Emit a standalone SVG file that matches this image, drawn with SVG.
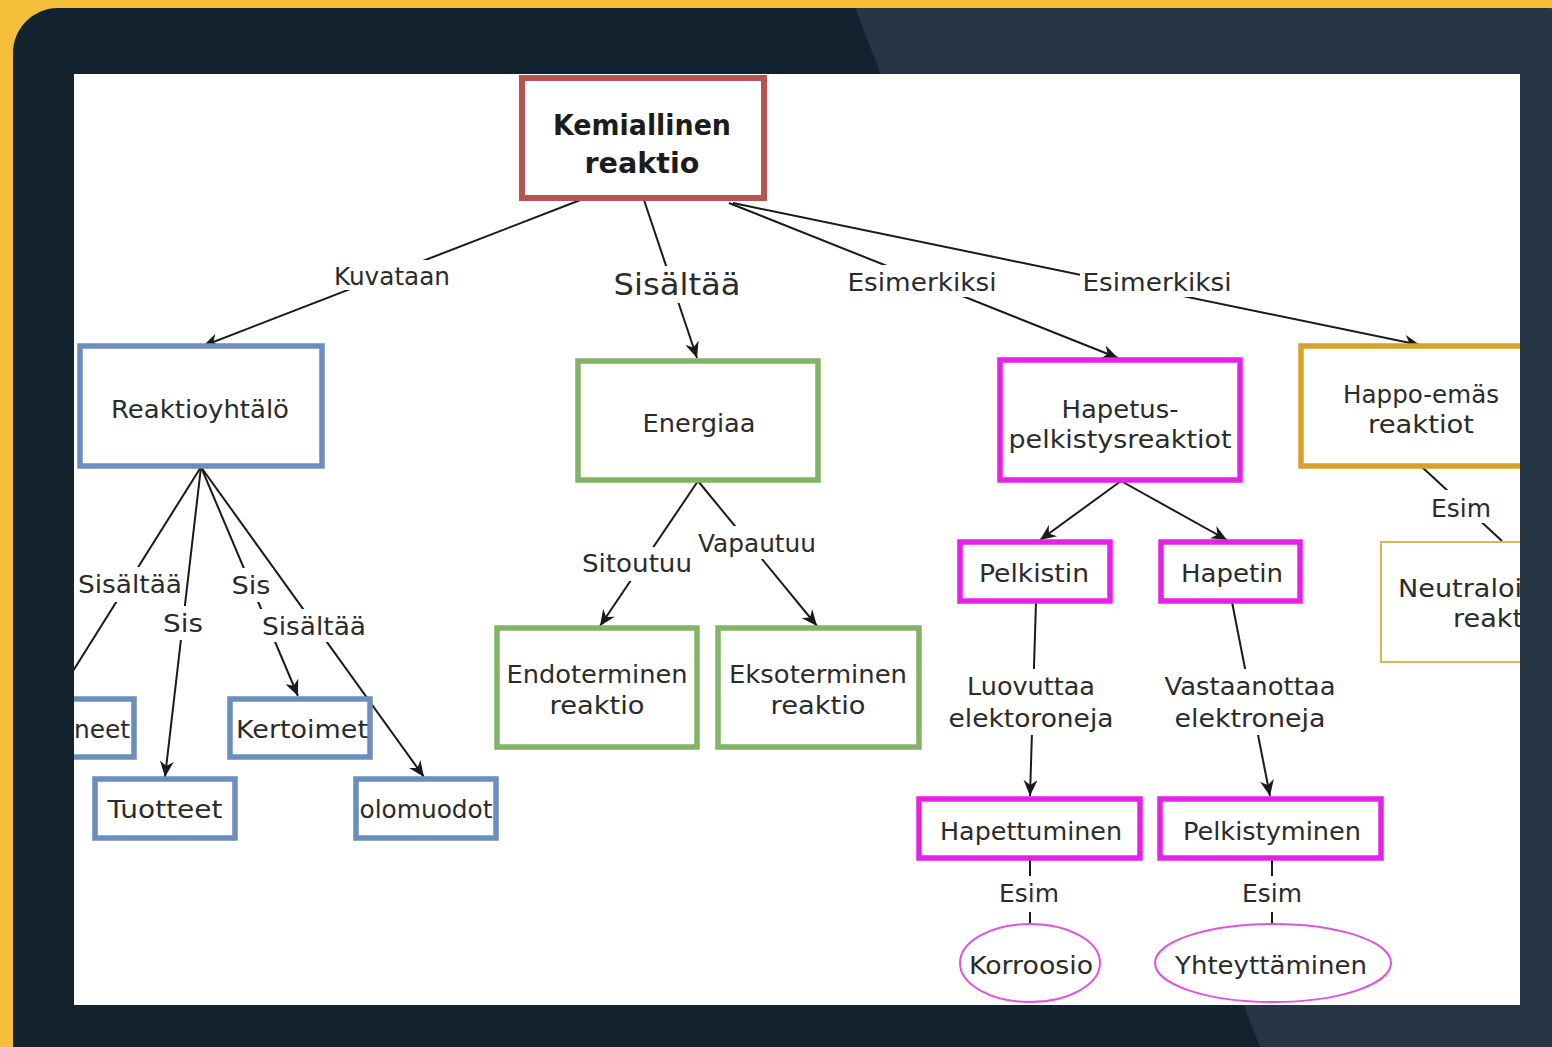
<svg xmlns="http://www.w3.org/2000/svg" width="1552" height="1047" viewBox="0 0 1552 1047">
  <style>
    .t { font-family: "DejaVu Sans", "Liberation Sans", sans-serif; font-size: 24px; fill: #2b2b2b; text-anchor: middle; }
    .b { font-weight: bold; font-size: 29px; fill: #1c1c1c; }
    .big { font-size: 30px; }
    .s { text-anchor: start; }
    .e { text-anchor: end; }
    .edge { stroke: #1a1a1a; stroke-width: 2; fill: none; }
    .arr { marker-end: url(#arrow); }
    .lbg { fill: #ffffff; }
    .red { fill: #ffffff; stroke: #b85450; stroke-width: 6; }
    .blue { fill: #ffffff; stroke: #6c8ebf; stroke-width: 5.5; }
    .green { fill: #ffffff; stroke: #82b366; stroke-width: 5.5; }
    .mag { fill: #ffffff; stroke: #e620e6; stroke-width: 5.5; }
    .gold { fill: #ffffff; stroke: #d7a12b; stroke-width: 5.5; }
    .pale { fill: #ffffff; stroke: #d6b656; stroke-width: 2; }
    .ell { fill: #ffffff; stroke: #de55de; stroke-width: 2; }
  </style>
  <defs>
    <marker id="arrow" viewBox="0 0 16 14" refX="16" refY="7" markerWidth="16" markerHeight="14" orient="auto" markerUnits="userSpaceOnUse">
      <path d="M0,0 L16,7 L0,14 L5,7 z" fill="#1a1a1a"/>
    </marker>
    <clipPath id="frameClip">
      <rect x="13" y="8" width="1577" height="1100" rx="45"/>
    </clipPath>
    <clipPath id="canvasClip">
      <rect x="74" y="74" width="1446" height="931"/>
    </clipPath>
  </defs>

  <!-- backdrop and frame -->
  <rect x="0" y="0" width="1552" height="1047" fill="#f4be38"/>
  <rect x="13" y="8" width="1577" height="1100" rx="45" fill="#12222f"/>
  <polygon points="855,8 1600,8 1600,1047 1260,1047" fill="#263544" clip-path="url(#frameClip)"/>
  <rect x="74" y="74" width="1446" height="931" fill="#ffffff"/>

  <g clip-path="url(#canvasClip)">
    <!-- connectors -->
    <g id="connectors">
      <line class="edge arr" x1="583" y1="199" x2="203" y2="346"/>
      <line class="edge arr" x1="644" y1="200" x2="697" y2="358"/>
      <line class="edge arr" x1="729" y1="203" x2="1118" y2="358"/>
      <line class="edge arr" x1="733" y1="203" x2="1420" y2="345"/>
      <line class="edge arr" x1="201" y1="467" x2="56" y2="698"/>
      <line class="edge arr" x1="201" y1="467" x2="165" y2="777"/>
      <line class="edge arr" x1="201" y1="467" x2="298" y2="696"/>
      <line class="edge arr" x1="201" y1="467" x2="424" y2="777"/>
      <line class="edge arr" x1="698" y1="481" x2="600" y2="626"/>
      <line class="edge arr" x1="698" y1="481" x2="817" y2="626"/>
      <line class="edge arr" x1="1121" y1="481" x2="1040" y2="540"/>
      <line class="edge arr" x1="1121" y1="481" x2="1227" y2="540"/>
      <line class="edge arr" x1="1036" y1="602" x2="1030" y2="796"/>
      <line class="edge arr" x1="1232" y1="602" x2="1270" y2="796"/>
      <line class="edge" x1="1030" y1="859" x2="1030" y2="923"/>
      <line class="edge" x1="1272" y1="859" x2="1272" y2="923"/>
      <line class="edge" x1="1422" y1="467" x2="1502" y2="541"/>

      <!-- edge labels -->
      <rect class="lbg" x="331" y="260" width="122" height="30"/>
      <text class="t" x="392" y="285" textLength="116" lengthAdjust="spacingAndGlyphs">Kuvataan</text>
      <rect class="lbg" x="610" y="266" width="135" height="37"/>
      <text class="t big" x="677" y="295" textLength="127" lengthAdjust="spacingAndGlyphs">Sisältää</text>
      <rect class="lbg" x="845" y="265" width="155" height="32"/>
      <text class="t" x="922" y="291" textLength="149" lengthAdjust="spacingAndGlyphs">Esimerkiksi</text>
      <rect class="lbg" x="1080" y="265" width="155" height="32"/>
      <text class="t" x="1157" y="291" textLength="149" lengthAdjust="spacingAndGlyphs">Esimerkiksi</text>

      <rect class="lbg" x="76" y="567" width="108" height="35"/>
      <text class="t" x="130" y="593" textLength="104" lengthAdjust="spacingAndGlyphs">Sisältää</text>
      <rect class="lbg" x="160" y="606" width="46" height="34"/>
      <text class="t" x="183" y="632" textLength="40" lengthAdjust="spacingAndGlyphs">Sis</text>
      <rect class="lbg" x="229" y="568" width="44" height="34"/>
      <text class="t" x="251" y="594" textLength="39" lengthAdjust="spacingAndGlyphs">Sis</text>
      <rect class="lbg" x="259" y="609" width="110" height="33"/>
      <text class="t" x="314" y="635" textLength="104" lengthAdjust="spacingAndGlyphs">Sisältää</text>

      <rect class="lbg" x="579" y="547" width="116" height="34"/>
      <text class="t" x="637" y="572" textLength="110" lengthAdjust="spacingAndGlyphs">Sitoutuu</text>
      <rect class="lbg" x="695" y="526" width="124" height="33"/>
      <text class="t" x="757" y="552" textLength="118" lengthAdjust="spacingAndGlyphs">Vapautuu</text>

      <rect class="lbg" x="946" y="669" width="171" height="66"/>
      <text class="t" x="1031" y="695" textLength="128" lengthAdjust="spacingAndGlyphs">Luovuttaa</text>
      <text class="t" x="1031" y="727" textLength="165" lengthAdjust="spacingAndGlyphs">elektoroneja</text>
      <rect class="lbg" x="1162" y="669" width="177" height="66"/>
      <text class="t" x="1250" y="695" textLength="171" lengthAdjust="spacingAndGlyphs">Vastaanottaa</text>
      <text class="t" x="1250" y="727" textLength="151" lengthAdjust="spacingAndGlyphs">elektroneja</text>

      <rect class="lbg" x="996" y="876" width="66" height="36"/>
      <text class="t" x="1029" y="902" textLength="60" lengthAdjust="spacingAndGlyphs">Esim</text>
      <rect class="lbg" x="1239" y="876" width="66" height="36"/>
      <text class="t" x="1272" y="902" textLength="60" lengthAdjust="spacingAndGlyphs">Esim</text>
      <rect class="lbg" x="1428" y="490" width="66" height="33"/>
      <text class="t" x="1461" y="517" textLength="60" lengthAdjust="spacingAndGlyphs">Esim</text>
    </g>

    <!-- nodes -->
    <g id="node-kemiallinen">
      <rect class="red" x="522" y="78" width="242" height="120"/>
      <text class="t b" x="642" y="135" textLength="178" lengthAdjust="spacingAndGlyphs">Kemiallinen</text>
      <text class="t b" x="642" y="173" textLength="115" lengthAdjust="spacingAndGlyphs">reaktio</text>
    </g>
    <g id="node-reaktioyhtalo">
      <rect class="blue" x="80" y="346" width="242" height="120"/>
      <text class="t" x="200" y="418" textLength="178" lengthAdjust="spacingAndGlyphs">Reaktioyhtälö</text>
    </g>
    <g id="node-energiaa">
      <rect class="green" x="578" y="361" width="240" height="119"/>
      <text class="t" x="699" y="432" textLength="113" lengthAdjust="spacingAndGlyphs">Energiaa</text>
    </g>
    <g id="node-hapetus">
      <rect class="mag" x="1000" y="360" width="240" height="120"/>
      <text class="t" x="1120" y="418" textLength="117" lengthAdjust="spacingAndGlyphs">Hapetus-</text>
      <text class="t" x="1120" y="448" textLength="223" lengthAdjust="spacingAndGlyphs">pelkistysreaktiot</text>
    </g>
    <g id="node-happo">
      <rect class="gold" x="1301" y="346" width="260" height="120"/>
      <text class="t" x="1421" y="403" textLength="156" lengthAdjust="spacingAndGlyphs">Happo-emäs</text>
      <text class="t" x="1421" y="433" textLength="106" lengthAdjust="spacingAndGlyphs">reaktiot</text>
    </g>
    <g id="node-neutraloi">
      <rect class="pale" x="1381" y="542" width="200" height="120"/>
      <text class="t s" x="1398" y="597" textLength="124" lengthAdjust="spacingAndGlyphs">Neutraloi</text>
      <text class="t s" x="1453" y="627" textLength="70" lengthAdjust="spacingAndGlyphs">reakt</text>
    </g>
    <g id="node-neet">
      <rect class="blue" x="20" y="699" width="114" height="58"/>
      <text class="t e" x="130" y="738" textLength="56" lengthAdjust="spacingAndGlyphs">neet</text>
    </g>
    <g id="node-kertoimet">
      <rect class="blue" x="230" y="699" width="140" height="58"/>
      <text class="t" x="302" y="738" textLength="132" lengthAdjust="spacingAndGlyphs">Kertoimet</text>
    </g>
    <g id="node-tuotteet">
      <rect class="blue" x="95" y="779" width="140" height="59"/>
      <text class="t" x="165" y="818" textLength="115" lengthAdjust="spacingAndGlyphs">Tuotteet</text>
    </g>
    <g id="node-olomuodot">
      <rect class="blue" x="356" y="779" width="140" height="59"/>
      <text class="t" x="426" y="818" textLength="133" lengthAdjust="spacingAndGlyphs">olomuodot</text>
    </g>
    <g id="node-endoterminen">
      <rect class="green" x="497" y="628" width="200" height="119"/>
      <text class="t" x="597" y="683" textLength="181" lengthAdjust="spacingAndGlyphs">Endoterminen</text>
      <text class="t" x="597" y="714" textLength="95" lengthAdjust="spacingAndGlyphs">reaktio</text>
    </g>
    <g id="node-eksoterminen">
      <rect class="green" x="718" y="628" width="201" height="119"/>
      <text class="t" x="818" y="683" textLength="178" lengthAdjust="spacingAndGlyphs">Eksoterminen</text>
      <text class="t" x="818" y="714" textLength="95" lengthAdjust="spacingAndGlyphs">reaktio</text>
    </g>
    <g id="node-pelkistin">
      <rect class="mag" x="960" y="542" width="150" height="59"/>
      <text class="t" x="1034" y="582" textLength="110" lengthAdjust="spacingAndGlyphs">Pelkistin</text>
    </g>
    <g id="node-hapetin">
      <rect class="mag" x="1161" y="542" width="139" height="59"/>
      <text class="t" x="1232" y="582" textLength="102" lengthAdjust="spacingAndGlyphs">Hapetin</text>
    </g>
    <g id="node-hapettuminen">
      <rect class="mag" x="919" y="799" width="221" height="59"/>
      <text class="t" x="1031" y="840" textLength="182" lengthAdjust="spacingAndGlyphs">Hapettuminen</text>
    </g>
    <g id="node-pelkistyminen">
      <rect class="mag" x="1160" y="799" width="221" height="59"/>
      <text class="t" x="1272" y="840" textLength="178" lengthAdjust="spacingAndGlyphs">Pelkistyminen</text>
    </g>
    <g id="node-korroosio">
      <ellipse class="ell" cx="1030" cy="963" rx="70" ry="39"/>
      <text class="t" x="1031" y="974" textLength="124" lengthAdjust="spacingAndGlyphs">Korroosio</text>
    </g>
    <g id="node-yhteyttaminen">
      <ellipse class="ell" cx="1273" cy="963" rx="118" ry="39"/>
      <text class="t" x="1271" y="974" textLength="192" lengthAdjust="spacingAndGlyphs">Yhteyttäminen</text>
    </g>
  </g>
</svg>
